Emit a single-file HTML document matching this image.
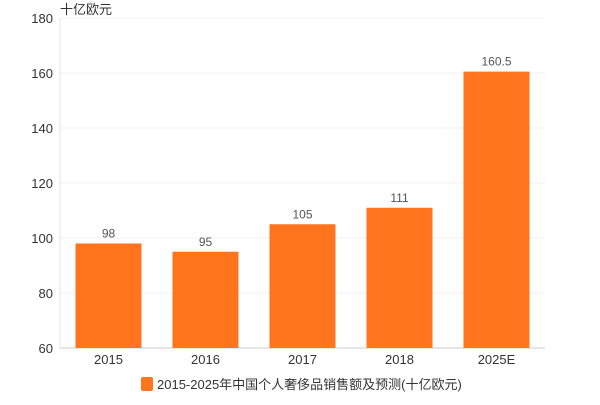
<!DOCTYPE html>
<html><head><meta charset="utf-8"><style>
body{margin:0;background:#fff}
svg{font-family:"Liberation Sans","Noto Sans CJK SC",sans-serif}
</style></head><body>
<svg width="600" height="400" id="c">
<text x="60" y="14" font-size="13" fill="#333">十亿欧元</text>
<g id="grid"></g><g id="bars"></g><g id="labels"></g>
<g>
<rect x="141" y="377" width="12" height="14" rx="2" fill="#ff741c"></rect>
<text x="157" y="389" font-size="13" fill="#333">2015-2025年中国个人奢侈品销售额及预测(十亿欧元)</text>
</g>
</svg>
<script>
const categories=["2015","2016","2017","2018","2025E"];
const values=[98,95,105,111,160.5];
const valueLabels=["98","95","105","111","160.5"];
const yTicks=[60,80,100,120,140,160,180];
const L=60,R=545,T=18,B=348,ymin=60,ymax=180;
const ns="http://www.w3.org/2000/svg";
const y=v=>B-(v-ymin)/(ymax-ymin)*(B-T);
const bw=(R-L)/categories.length;
const x=i=>L+bw*(i+0.5);
function mk(t,a,p){const e=document.createElementNS(ns,t);for(const k in a)e.setAttribute(k,a[k]);p.appendChild(e);return e;}
const g=document.getElementById('grid'),b=document.getElementById('bars'),lb=document.getElementById('labels');
yTicks.forEach(v=>{
 const l=mk('line',{x1:L,x2:R,y1:y(v),y2:y(v),stroke:v==ymin?'#ccc':'#f0f0f0'},g);
 
 
 const t=mk('text',{x:L-7,y:y(v)+5,'text-anchor':'end','font-size':13,fill:'#333'},g);t.textContent=v;
 
 
});
const ax=mk('line',{x1:L,x2:L,y1:T,y2:B,stroke:'#e6e6e6'},g);


categories.forEach((c,i)=>{
 const r=mk('rect',{x:x(i)-33,y:y(values[i]),width:66,height:B-y(values[i]),fill:'#ff741c'},b);
 
 
 const t=mk('text',{x:x(i),y:y(values[i])-6,'text-anchor':'middle','font-size':12,fill:'#555'},lb);t.textContent=valueLabels[i];
 
 
 const xt=mk('text',{x:x(i),y:364,'text-anchor':'middle','font-size':13,fill:'#333'},lb);xt.textContent=c;
 
 
});
</script>
</body></html>
